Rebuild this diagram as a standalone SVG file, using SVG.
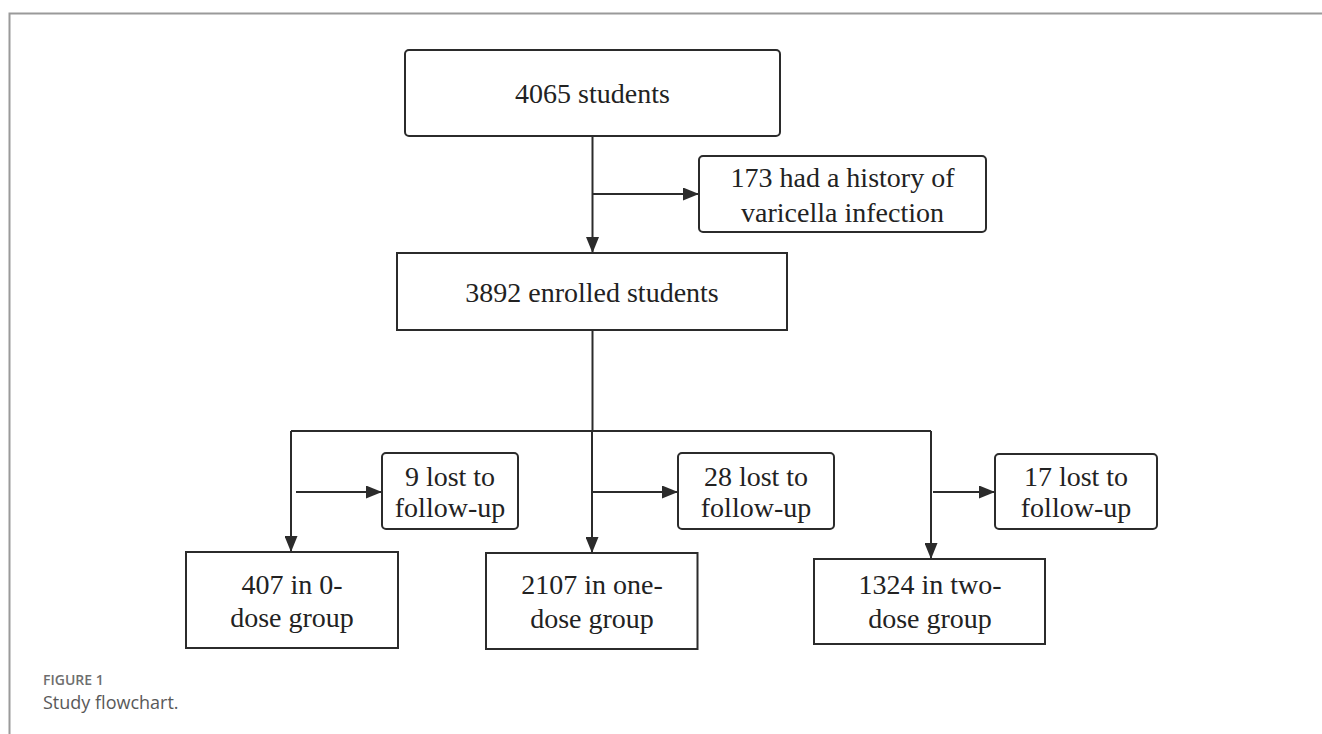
<svg xmlns="http://www.w3.org/2000/svg" width="1322" height="734" viewBox="0 0 1322 734">
<defs>
<marker id="arr" markerWidth="16" markerHeight="13" refX="15" refY="6.5" orient="auto" markerUnits="userSpaceOnUse">
<path d="M0,0 L16,6.5 L0,13 Z" fill="#2b2b2b"/>
</marker>
<style>
.box{fill:#fff;stroke:#2b2b2b;stroke-width:2}
.t{font-family:"Liberation Serif","Times New Roman",serif;font-size:28px;fill:#222;text-anchor:middle}
.c{fill:none;stroke:#2b2b2b;stroke-width:2}
.frame{fill:none;stroke:#9a9a9a;stroke-width:2}
</style>
</defs>
<rect width="1322" height="734" fill="#fff"/>
<path class="frame" d="M9.5,734 V13.5 H1322"/>
<g id="connectors">
<path class="c" d="M592.5,136 V252" marker-end="url(#arr)"/>
<path class="c" d="M592.5,194 H698" marker-end="url(#arr)"/>
<path class="c" d="M592.5,330 V431"/>
<path class="c" d="M291,431 H931"/>
<path class="c" d="M291,431 V551" marker-end="url(#arr)"/>
<path class="c" d="M592,431 V552" marker-end="url(#arr)"/>
<path class="c" d="M931,431 V558" marker-end="url(#arr)"/>
<path class="c" d="M296,492 H381" marker-end="url(#arr)"/>
<path class="c" d="M593,492 H677" marker-end="url(#arr)"/>
<path class="c" d="M933,492 H994" marker-end="url(#arr)"/>
</g>
<g id="n4065">
<rect class="box" x="405" y="50" width="375" height="86" rx="4"/>
<text class="t" x="592.5" y="102.5">4065 students</text>
</g>
<g id="n173">
<rect class="box" x="699" y="156" width="287" height="76" rx="4"/>
<text class="t" x="842.5" y="186.5">173 had a history of</text>
<text class="t" x="842.5" y="221.5">varicella infection</text>
</g>
<g id="n3892">
<rect class="box" x="397" y="253" width="390" height="77"/>
<text class="t" x="592" y="301.5">3892 enrolled students</text>
</g>
<g id="n9">
<rect class="box" x="382" y="453" width="136" height="76" rx="4"/>
<text class="t" x="450" y="486">9 lost to</text>
<text class="t" x="450" y="517">follow-up</text>
</g>
<g id="n28">
<rect class="box" x="678" y="453" width="156" height="76" rx="4"/>
<text class="t" x="756" y="486">28 lost to</text>
<text class="t" x="756" y="517">follow-up</text>
</g>
<g id="n17">
<rect class="box" x="995" y="454" width="162" height="75" rx="4"/>
<text class="t" x="1076" y="486">17 lost to</text>
<text class="t" x="1076" y="517">follow-up</text>
</g>
<g id="n407">
<rect class="box" x="186" y="552" width="212" height="96"/>
<text class="t" x="292" y="593.5">407 in 0-</text>
<text class="t" x="292" y="627">dose group</text>
</g>
<g id="n2107">
<rect class="box" x="486" y="553" width="211.5" height="96"/>
<text class="t" x="592" y="593.5">2107 in one-</text>
<text class="t" x="592" y="627.5">dose group</text>
</g>
<g id="n1324">
<rect class="box" x="814" y="559" width="231" height="85"/>
<text class="t" x="930" y="593.5">1324 in two-</text>
<text class="t" x="930" y="628">dose group</text>
</g>
<g id="caption">
<text x="43" y="685" font-family="'Open Sans','Noto Sans',sans-serif" font-size="14" font-weight="600" fill="#6e6e6e">FIGURE 1</text>
<text x="43" y="709" font-family="'Open Sans','Noto Sans',sans-serif" font-size="18" fill="#595959">Study flowchart.</text>
</g>
</svg>
